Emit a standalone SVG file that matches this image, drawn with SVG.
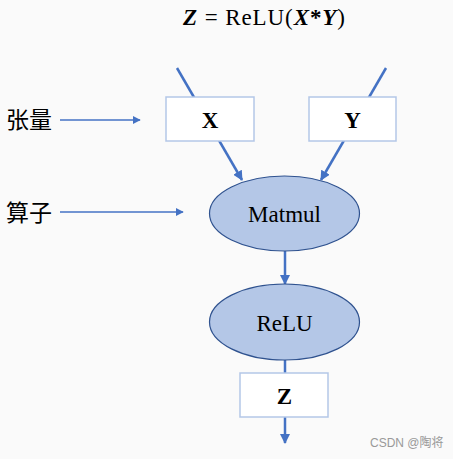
<svg xmlns="http://www.w3.org/2000/svg" width="453" height="459" viewBox="0 0 453 459">
<defs>
<marker id="ah" viewBox="0 0 10 10" refX="9" refY="5" markerWidth="4" markerHeight="4" orient="auto" markerUnits="strokeWidth"><path d="M0,0 L10,5 L0,10 z" fill="#4472c4"/></marker>
<marker id="ah2" viewBox="0 0 10 10" refX="9" refY="5" markerWidth="6" markerHeight="6" orient="auto" markerUnits="strokeWidth"><path d="M0,0 L10,5 L0,10 z" fill="#4472c4"/></marker>
</defs>
<style>
.edge{stroke:#4472c4;stroke-width:2.5;fill:none}
.lab{stroke:#4472c4;stroke-width:1.3;fill:none}
.box{fill:#ffffff;stroke:#b4c7e7;stroke-width:1.5}
.op{fill:#b4c7e7;stroke:#2f528f;stroke-width:1.2}
.t{font-family:"Liberation Serif",serif;font-size:23px;fill:#000;text-anchor:middle}
.b{font-weight:bold}
.cn{font-family:"Noto Sans CJK SC",sans-serif;font-size:23px;fill:#000}
</style>
<rect width="453" height="459" fill="#fafafa"/>
<text x="264" y="25" class="t" font-size="22" textLength="162" lengthAdjust="spacing"><tspan font-weight="bold" font-style="italic">Z</tspan> = ReLU(<tspan font-weight="bold" font-style="italic">X</tspan><tspan font-weight="bold">*</tspan><tspan font-weight="bold" font-style="italic">Y</tspan>)</text>
<g id="connectors">
<line class="edge" x1="177" y1="68" x2="242" y2="180" marker-end="url(#ah)"/>
<line class="edge" x1="386" y1="68" x2="321" y2="180" marker-end="url(#ah)"/>
<line class="edge" x1="285" y1="251" x2="285" y2="284" marker-end="url(#ah)"/>
<line class="edge" x1="285" y1="360" x2="285" y2="373"/>
<line class="edge" x1="285" y1="417" x2="285" y2="443" marker-end="url(#ah)"/>
<line class="lab" x1="60" y1="120" x2="140" y2="120" marker-end="url(#ah2)"/>
<line class="lab" x1="60" y1="212" x2="183" y2="212" marker-end="url(#ah2)"/>
</g>
<g id="X"><rect class="box" x="166" y="97" width="88" height="44"/><text x="210" y="128" class="t b">X</text></g>
<g id="Y"><rect class="box" x="309" y="97" width="87" height="44"/><text x="352.5" y="128" class="t b">Y</text></g>
<g id="Matmul"><ellipse class="op" cx="284.5" cy="213.5" rx="75" ry="37.5"/><text x="284.5" y="221.5" class="t" font-size="24">Matmul</text></g>
<g id="ReLU"><ellipse class="op" cx="284.5" cy="322" rx="75" ry="38"/><text x="284.5" y="331" class="t" font-size="24">ReLU</text></g>
<g id="Z"><rect class="box" x="240" y="373" width="88" height="44"/><text x="284.5" y="404" class="t b">Z</text></g>
<g id="label-tensor"><text x="6" y="128" class="cn">张量</text></g>
<g id="label-op"><text x="6" y="221" class="cn">算子</text></g>
<text x="370" y="447" font-family="'Liberation Sans','Noto Sans CJK SC',sans-serif" font-size="12" fill="#999">CSDN @陶将</text>
</svg>
